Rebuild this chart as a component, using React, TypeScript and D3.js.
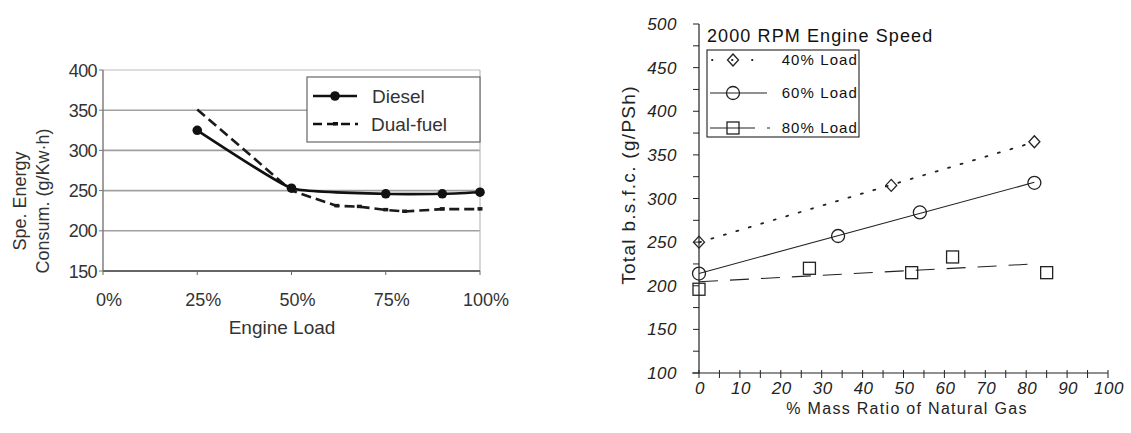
import React, { useEffect, useRef } from 'react';
import * as d3 from 'd3';

// left chart: specific energy consumption vs engine load
const loadTicks = [0, 25, 50, 75, 100];
const energyTicks = [150, 200, 250, 300, 350, 400];
const dieselLoad = [25, 50, 75, 90, 100];
const dieselEnergy = [325, 253, 246, 246, 248];
const dualLoad = [25, 50, 62, 68, 75, 80, 90, 100];
const dualEnergy = [351, 250, 231, 230, 226, 224, 227, 227];

// right chart: total b.s.f.c. vs natural gas mass ratio
const ratioTicks = [0, 10, 20, 30, 40, 50, 60, 70, 80, 90, 100];
const ratioMinorTicks = [0, 5, 10, 15, 20, 25, 30, 35, 40, 45, 50, 55, 60, 65, 70, 75, 80, 85, 90, 95, 100];
const bsfcTicks = [100, 150, 200, 250, 300, 350, 400, 450, 500];
const bsfcMinorTicks = [100, 125, 150, 175, 200, 225, 250, 275, 300, 325, 350, 375, 400, 425, 450, 475, 500];
const load40Ratio = [0, 47, 82];
const load40Bsfc = [250, 315, 365];
const load60Ratio = [0, 34, 54, 82];
const load60Bsfc = [214, 257, 284, 318];
const load80Ratio = [0, 27, 52, 62, 85];
const load80Bsfc = [196, 220, 215, 233, 215];
const fitRange = [0, 82];
const loadNames = ['40% Load', '60% Load', '80% Load'];

// least squares line through the measured points
function fit(xs: number[], ys: number[]) {
    let mx = d3.mean(xs)!, my = d3.mean(ys)!;
    let sxy = d3.sum(xs, (x, i) => (x - mx) * (ys[i] - my));
    let sxx = d3.sum(xs, x => (x - mx) * (x - mx));
    let slope = sxy / sxx;
    return (x: number) => my + slope * (x - mx);
}

function drawLeft(svg: d3.Selection<SVGSVGElement, unknown, null, undefined>) {
    let font = 'Liberation Sans, Arial, sans-serif';
    let txt = '#333';
    let g = svg.append('g');
    let x = d3.scaleLinear().domain([0, 100]).range([103, 480]);
    let y = d3.scaleLinear().domain([150, 400]).range([271, 70]);

    // grid
    g.append('g')
        .selectAll('line')
        .data(energyTicks.filter(d => d > 150 && d < 400))
        .enter()
            .append('line')
            .attr('x1', x(0)).attr('x2', x(100))
            .attr('y1', d => y(d)).attr('y2', d => y(d))
            .attr('stroke', '#a0a0a0')
            .attr('stroke-width', 1.6);

    // frame
    g.append('line').attr('x1', x(0)).attr('x2', x(100)).attr('y1', y(400)).attr('y2', y(400))
        .attr('stroke', '#bbb').attr('stroke-width', 1.2);
    g.append('line').attr('x1', x(100)).attr('x2', x(100)).attr('y1', y(400)).attr('y2', y(150))
        .attr('stroke', '#bbb').attr('stroke-width', 1.2);
    g.append('line').attr('x1', x(0)).attr('x2', x(0)).attr('y1', y(400)).attr('y2', y(150))
        .attr('stroke', '#777').attr('stroke-width', 1.4);
    g.append('line').attr('x1', x(0)).attr('x2', x(100)).attr('y1', y(150)).attr('y2', y(150))
        .attr('stroke', '#666').attr('stroke-width', 1.8);

    // y ticks + labels
    g.append('g')
        .selectAll('line')
        .data(energyTicks)
        .enter()
            .append('line')
            .attr('x1', x(0) - 4).attr('x2', x(0))
            .attr('y1', d => y(d)).attr('y2', d => y(d))
            .attr('stroke', '#777');
    g.append('g')
        .selectAll('text')
        .data(energyTicks)
        .enter()
            .append('text')
            .attr('x', 97)
            .attr('y', d => y(d) + 6.5)
            .attr('text-anchor', 'end')
            .attr('font-family', font)
            .attr('font-size', 18)
            .attr('letter-spacing', -0.6)
            .attr('fill', txt)
            .text(d => d);

    // x ticks + labels
    g.append('g')
        .selectAll('line')
        .data(loadTicks)
        .enter()
            .append('line')
            .attr('x1', d => x(d)).attr('x2', d => x(d))
            .attr('y1', y(150)).attr('y2', y(150) + 4)
            .attr('stroke', '#666');
    g.append('g')
        .selectAll('text')
        .data(loadTicks)
        .enter()
            .append('text')
            .attr('x', d => x(d) + 6)
            .attr('y', 306)
            .attr('text-anchor', 'middle')
            .attr('font-family', font)
            .attr('font-size', 18)
            .attr('fill', txt)
            .text(d => d + '%');

    g.append('text')
        .attr('x', 282).attr('y', 334)
        .attr('text-anchor', 'middle')
        .attr('font-family', font)
        .attr('font-size', 19)
        .attr('fill', txt)
        .text('Engine Load');

    let title = g.append('text')
        .attr('transform', 'translate(0,201) rotate(-90)')
        .attr('text-anchor', 'middle')
        .attr('font-family', font)
        .attr('font-size', 18)
        .attr('fill', txt);
    title.append('tspan').attr('x', 0).attr('y', 26).text('Spe. Energy');
    title.append('tspan').attr('x', 0).attr('y', 49).text('Consum. (g/Kw·h)');

    // series
    let dual = d3.range(dualLoad.length);
    g.append('path')
        .attr('d', d3.line<number>().x(i => x(dualLoad[i])).y(i => y(dualEnergy[i]))(dual))
        .attr('fill', 'none')
        .attr('stroke', '#1a1a1a')
        .attr('stroke-width', 2.6)
        .attr('stroke-dasharray', '10,5');
    g.append('g')
        .selectAll('rect')
        .data(dual.slice(2))
        .enter()
            .append('rect')
            .attr('x', i => x(dualLoad[i]) - 2.5)
            .attr('y', i => y(dualEnergy[i]) - 2)
            .attr('width', 5).attr('height', 3.5)
            .attr('fill', '#1a1a1a');

    let diesel = d3.range(dieselLoad.length);
    g.append('path')
        .attr('d', d3.line<number>().x(i => x(dieselLoad[i])).y(i => y(dieselEnergy[i])).curve(d3.curveCardinal.tension(0.6))(diesel))
        .attr('fill', 'none')
        .attr('stroke', '#111')
        .attr('stroke-width', 2.6);
    g.append('g')
        .selectAll('circle')
        .data(diesel)
        .enter()
            .append('circle')
            .attr('cx', i => x(dieselLoad[i]))
            .attr('cy', i => y(dieselEnergy[i]))
            .attr('r', 4.8)
            .attr('fill', '#111');

    // legend
    let lg = g.append('g');
    lg.append('rect')
        .attr('x', 307).attr('y', 77).attr('width', 173).attr('height', 65)
        .attr('fill', 'white').attr('stroke', '#666').attr('stroke-width', 1.2);
    lg.append('line').attr('x1', 313).attr('x2', 357).attr('y1', 96).attr('y2', 96)
        .attr('stroke', '#111').attr('stroke-width', 2.6);
    lg.append('circle').attr('cx', 335).attr('cy', 96).attr('r', 4.8).attr('fill', '#111');
    lg.append('line').attr('x1', 313).attr('x2', 358).attr('y1', 124).attr('y2', 124)
        .attr('stroke', '#111').attr('stroke-width', 2.6).attr('stroke-dasharray', '9,5');
    lg.append('rect').attr('x', 333).attr('y', 122).attr('width', 5).attr('height', 3.5).attr('fill', '#111');
    lg.append('text').attr('x', 372).attr('y', 103)
        .attr('font-family', font).attr('font-size', 19).attr('fill', txt).text('Diesel');
    lg.append('text').attr('x', 371).attr('y', 131)
        .attr('font-family', font).attr('font-size', 19).attr('fill', txt).text('Dual-fuel');
}

function drawRight(svg: d3.Selection<SVGSVGElement, unknown, null, undefined>) {
    let font = 'Liberation Sans, Arial, sans-serif';
    let ink = '#222';
    let g = svg.append('g');
    let x = d3.scaleLinear().domain([0, 100]).range([699, 1108]);
    let y = d3.scaleLinear().domain([100, 500]).range([373, 24]);

    // axes
    g.append('line').attr('x1', x(0)).attr('x2', x(0)).attr('y1', y(500)).attr('y2', y(100))
        .attr('stroke', ink).attr('stroke-width', 1.2);
    g.append('line').attr('x1', x(0) - 7).attr('x2', x(100)).attr('y1', y(100)).attr('y2', y(100))
        .attr('stroke', ink).attr('stroke-width', 1.2);

    g.append('g')
        .selectAll('line')
        .data(bsfcMinorTicks)
        .enter()
            .append('line')
            .attr('x1', x(0) - 6).attr('x2', x(0))
            .attr('y1', d => y(d)).attr('y2', d => y(d))
            .attr('stroke', ink);
    g.append('g')
        .selectAll('text')
        .data(bsfcTicks)
        .enter()
            .append('text')
            .attr('x', 677)
            .attr('y', d => y(d) + 6)
            .attr('text-anchor', 'end')
            .attr('font-family', font)
            .attr('font-style', 'italic')
            .attr('font-size', 17)
            .attr('letter-spacing', 0.5)
            .attr('fill', ink)
            .text(d => d);

    g.append('g')
        .selectAll('line')
        .data(ratioMinorTicks)
        .enter()
            .append('line')
            .attr('x1', d => x(d)).attr('x2', d => x(d))
            .attr('y1', y(100) - 3).attr('y2', y(100) + 5)
            .attr('stroke', ink);
    g.append('g')
        .selectAll('text')
        .data(ratioTicks)
        .enter()
            .append('text')
            .attr('x', d => x(d) + 1)
            .attr('y', 394)
            .attr('text-anchor', 'middle')
            .attr('font-family', font)
            .attr('font-style', 'italic')
            .attr('font-size', 17)
            .attr('letter-spacing', 0.5)
            .attr('fill', ink)
            .text(d => d);

    g.append('text')
        .attr('x', 907).attr('y', 414)
        .attr('text-anchor', 'middle')
        .attr('font-family', font)
        .attr('font-size', 16)
        .attr('letter-spacing', 1.3)
        .attr('fill', ink)
        .text('% Mass Ratio of Natural Gas');

    g.append('text')
        .attr('transform', 'translate(635,185) rotate(-90)')
        .attr('text-anchor', 'middle')
        .attr('font-family', font)
        .attr('font-size', 19)
        .attr('letter-spacing', 1.3)
        .attr('fill', ink)
        .text('Total b.s.f.c. (g/PSh)');

    // trend lines
    let series = [
        { xs: load40Ratio, ys: load40Bsfc, dash: '2,11', marker: 'diamond' },
        { xs: load60Ratio, ys: load60Bsfc, dash: null, marker: 'circle' },
        { xs: load80Ratio, ys: load80Bsfc, dash: '19,12', marker: 'square' },
    ];
    let lineGen = d3.line<number[]>().x(d => x(d[0])).y(d => y(d[1]));

    function marker(sel: d3.Selection<SVGGElement, unknown, null, undefined>, kind: string, cx: number, cy: number) {
        if (kind === 'diamond') {
            sel.append('path')
                .attr('d', `M${cx},${cy - 6}L${cx + 5.5},${cy}L${cx},${cy + 6}L${cx - 5.5},${cy}Z`)
                .attr('fill', 'none').attr('stroke', ink).attr('stroke-width', 1.3);
        } else if (kind === 'circle') {
            sel.append('circle').attr('cx', cx).attr('cy', cy).attr('r', 6.5)
                .attr('fill', 'none').attr('stroke', ink).attr('stroke-width', 1.3);
        } else {
            sel.append('rect').attr('x', cx - 6).attr('y', cy - 6).attr('width', 12).attr('height', 12)
                .attr('fill', 'none').attr('stroke', ink).attr('stroke-width', 1.3);
        }
    }

    series.forEach(s => {
        let f = fit(s.xs, s.ys);
        g.append('path')
            .attr('d', lineGen(fitRange.map(v => [v, f(v)])))
            .attr('fill', 'none')
            .attr('stroke', ink)
            .attr('stroke-width', s.dash === '2,11' ? 1.8 : 1.1)
            .attr('stroke-linecap', s.dash === '2,11' ? 'round' : 'butt')
            .attr('stroke-dasharray', s.dash);
        let mg = g.append('g');
        s.xs.forEach((v, i) => marker(mg, s.marker, x(v), y(s.ys[i])));
    });

    // title + legend
    g.append('text')
        .attr('x', 707).attr('y', 42)
        .attr('font-family', font)
        .attr('font-size', 18)
        .attr('letter-spacing', 1.1)
        .attr('fill', '#111')
        .text('2000 RPM Engine Speed');

    let lg = g.append('g');
    lg.append('rect')
        .attr('x', 707).attr('y', 50).attr('width', 152).attr('height', 87)
        .attr('fill', 'white').attr('stroke', ink).attr('stroke-width', 1.1);
    let rows = [60, 93, 128];
    lg.append('line').attr('x1', 712).attr('x2', 770).attr('y1', rows[0]).attr('y2', rows[0])
        .attr('stroke', ink).attr('stroke-width', 1.8).attr('stroke-linecap', 'round').attr('stroke-dasharray', '0.5,19.5');
    lg.append('line').attr('x1', 710).attr('x2', 767).attr('y1', rows[1]).attr('y2', rows[1])
        .attr('stroke', ink).attr('stroke-width', 1.1);
    lg.append('line').attr('x1', 710).attr('x2', 770).attr('y1', rows[2]).attr('y2', rows[2])
        .attr('stroke', ink).attr('stroke-width', 1.1).attr('stroke-dasharray', '45,12');
    marker(lg, 'diamond', 733, rows[0]);
    marker(lg, 'circle', 733, rows[1]);
    marker(lg, 'square', 733, rows[2]);
    lg.append('g')
        .selectAll('text')
        .data(loadNames)
        .enter()
            .append('text')
            .attr('x', 858)
            .attr('y', (d, i) => rows[i] + 5)
            .attr('text-anchor', 'end')
            .attr('font-family', font)
            .attr('font-size', 15)
            .attr('letter-spacing', 1.1)
            .attr('fill', '#111')
            .text(d => d);
}

export default function App() {
    const ref = useRef<SVGSVGElement>(null);

    useEffect(() => {
        let svg = d3.select(ref.current!);
        svg.selectAll('*').remove();
        drawLeft(svg);
        drawRight(svg);
    }, []);

    return (
        <svg ref={ref} width={1131} height={433}
            style={{ position: 'absolute', left: 0, top: 0, background: 'white' }} />
    );
}
